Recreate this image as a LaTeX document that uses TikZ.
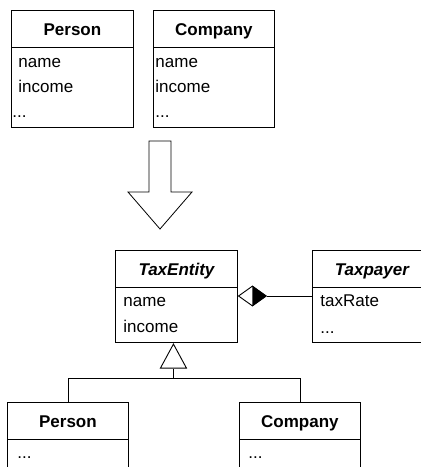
\documentclass[tikz,border=0pt]{standalone}
\usepackage{fontspec}
\setmainfont{Liberation Sans}
\usetikzlibrary{shapes.geometric}

\tikzset{
  head/.style={draw,anchor=north west,inner sep=0pt,minimum height=37pt,
    text height=12.5pt,text depth=0pt,font=\fontsize{17}{20}\selectfont\bfseries},
  abstract/.style={head,font=\fontsize{17}{20}\selectfont\bfseries\itshape},
  body/.style={draw,anchor=north west,inner sep=0pt},
  attr/.style={anchor=base west,inner sep=0pt},
}

\begin{document}
\begin{tikzpicture}[x=1pt,y=-1pt,font=\fontsize{17}{20}\selectfont,line width=0.9pt]
  \clip (0,0) rectangle (421,467);
  % classes before the refactoring
  \node[head,minimum width=122pt] (PersonOld) at (11,10) {Person};
  \node[body,minimum width=122pt,minimum height=80pt] (PersonOldAttr) at (11,47) {};
  \node[attr] (PersonOldName) at (18,67) {name};
  \node[attr] (PersonOldIncome) at (18,92) {income};
  \node[attr] (PersonOldMore) at (12,117) {...};

  \node[head,minimum width=121pt] (CompanyOld) at (153,10) {Company};
  \node[body,minimum width=121pt,minimum height=80pt] (CompanyOldAttr) at (153,47) {};
  \node[attr] (CompanyOldName) at (155,67) {name};
  \node[attr] (CompanyOldIncome) at (155,92) {income};
  \node[attr] (CompanyOldMore) at (155,117) {...};

  % big arrow
  \draw[line width=0.8pt] (149,141) -- (149,192) -- (128,192) -- (160,229)
    -- (192,192) -- (171,192) -- (171,141) -- cycle;

  % classes after the refactoring
  \node[abstract,minimum width=122pt] (TaxEntity) at (115,250) {TaxEntity};
  \node[body,minimum width=122pt,minimum height=55pt] (TaxEntityAttr) at (115,287) {};
  \node[attr] (TaxEntityName) at (123,306) {name};
  \node[attr] (TaxEntityIncome) at (123,332) {income};

  \node[abstract,minimum width=119pt] (Taxpayer) at (312,250) {Taxpayer};
  \node[body,minimum width=119pt,minimum height=55pt] (TaxpayerAttr) at (312,287) {};
  \node[attr] (TaxpayerRate) at (320,306) {taxRate};
  \node[attr] (TaxpayerMore) at (320,333) {...};

  \node[head,minimum width=121pt] (PersonNew) at (7,402) {Person};
  \node[body,minimum width=121pt,minimum height=40pt] (PersonNewAttr) at (7,439) {};
  \node[attr] (PersonNewMore) at (17,458) {...};

  \node[head,minimum width=121pt] (CompanyNew) at (239,402) {Company};
  \node[body,minimum width=121pt,minimum height=40pt] (CompanyNewAttr) at (239,439) {};
  \node[attr] (CompanyNewMore) at (248,458) {...};

  % aggregation
  \node[diamond,draw,minimum width=28pt,minimum height=20pt,inner sep=0pt,anchor=west]
    (agg) at ([yshift=-9pt]TaxEntityAttr.north east) {};
  \fill (agg.north) -- (agg.east) -- (agg.south) -- cycle;
  \draw (agg.east) -- (agg.east -| TaxpayerAttr.west);

  % generalization
  \node[isosceles triangle,isosceles triangle stretches,shape border rotate=90,draw,
    minimum height=24pt,minimum width=26pt,inner sep=0pt,anchor=apex]
    (gen) at ([xshift=-3pt]TaxEntityAttr.south) {};
  \draw (gen.lower side) -- ++(0,10) coordinate (join) -| (PersonNew.north);
  \draw (join) -| (CompanyNew.north);
\end{tikzpicture}
\end{document}
